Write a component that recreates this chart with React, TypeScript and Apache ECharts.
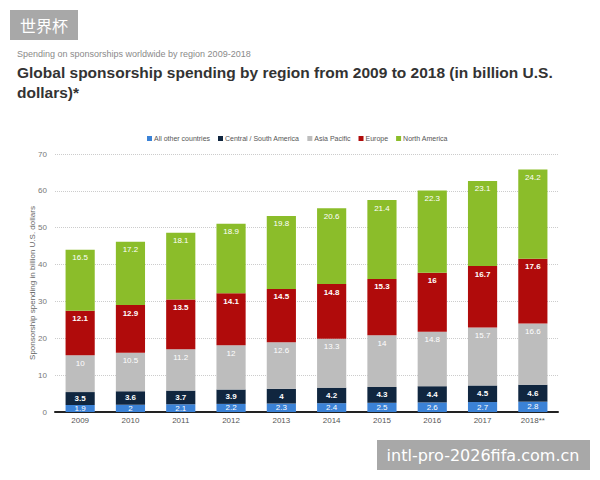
import React, { useEffect, useRef } from "react";
import * as echarts from "echarts";

const years = ["2009", "2010", "2011", "2012", "2013", "2014", "2015", "2016", "2017", "2018**"];
const allOther = [1.9, 2, 2.1, 2.2, 2.3, 2.4, 2.5, 2.6, 2.7, 2.8];
const centralSouth = [3.5, 3.6, 3.7, 3.9, 4, 4.2, 4.3, 4.4, 4.5, 4.6];
const asiaPacific = [10, 10.5, 11.2, 12, 12.6, 13.3, 14, 14.8, 15.7, 16.6];
const europe = [12.1, 12.9, 13.5, 14.1, 14.5, 14.8, 15.3, 16, 16.7, 17.6];
const northAmerica = [16.5, 17.2, 18.1, 18.9, 19.8, 20.6, 21.4, 22.3, 23.1, 24.2];

const FONT = "Liberation Sans, Arial, sans-serif";

export default function App() {
  const ref = useRef<HTMLDivElement>(null);

  useEffect(() => {
    if (!ref.current) return;
    const chart = echarts.init(ref.current, undefined, { renderer: "svg" });

    const seg = (name: string, data: number[], color: string, bold: boolean, pos: string) => ({
      name,
      type: "bar",
      stack: "total",
      barWidth: "58%",
      data,
      itemStyle: { color },
      label: {
        show: true,
        position: pos,
        distance: 4,
        color: "#fff",
        fontSize: 8,
        fontWeight: bold ? "bold" : "normal",
        fontFamily: FONT,
      },
    });

    chart.setOption({
      animation: false,
      backgroundColor: "#fff",
      textStyle: { fontFamily: FONT },
      graphic: [
        { type: "rect", shape: { x: 10, y: 10, width: 68, height: 30 }, style: { fill: "#a8a8a8" } },
        {
          type: "text",
          x: 44,
          y: 25,
          style: {
            text: "世界杯",
            fill: "#fff",
            font: "16px 'Noto Sans CJK SC', sans-serif",
            align: "center",
            verticalAlign: "middle",
          },
        },
        {
          type: "text",
          x: 17,
          y: 54,
          style: {
            text: "Spending on sponsorships worldwide by region 2009-2018",
            fill: "#8a8a8a",
            font: "9px " + FONT,
            verticalAlign: "middle",
          },
        },
        {
          type: "text",
          x: 17,
          y: 62,
          style: {
            text: "Global sponsorship spending by region from 2009 to 2018 (in billion U.S.\ndollars)*",
            fill: "#333",
            font: "bold 15.5px " + FONT,
            lineHeight: 20,
          },
        },
        { type: "rect", shape: { x: 377, y: 440, width: 213, height: 30 }, style: { fill: "#a8a8a8" } },
        {
          type: "text",
          x: 483,
          y: 455,
          style: {
            text: "intl-pro-2026fifa.com.cn",
            fill: "#fff",
            font: "16px 'DejaVu Sans', sans-serif",
            align: "center",
            verticalAlign: "middle",
          },
        },
      ],
      legend: {
        left: 147,
        top: 135,
        padding: 0,
        itemWidth: 5,
        itemHeight: 5,
        itemGap: 8,
        icon: "rect",
        textStyle: { fontSize: 7, color: "#555", fontFamily: FONT, padding: [0, 0, 0, -3] },
        data: ["All other countries", "Central / South America", "Asia Pacific", "Europe", "North America"],
      },
      grid: { left: 55, right: 42, top: 154, bottom: 68 },
      xAxis: {
        type: "category",
        data: years,
        axisLine: { lineStyle: { color: "#222", width: 2 } },
        axisTick: { show: false },
        axisLabel: { color: "#555", fontSize: 8, margin: 4 },
      },
      yAxis: {
        type: "value",
        min: 0,
        max: 70,
        interval: 10,
        name: "Sponsorship spending in billion U.S. dollars",
        nameLocation: "middle",
        nameGap: 19,
        nameMoveOverlap: false,
        nameTextStyle: { color: "#666", fontSize: 8 },
        axisLabel: { color: "#777", fontSize: 8, margin: 8 },
        splitLine: { lineStyle: { color: "#ccc", type: [1, 1] } },
        axisLine: { show: false },
        axisTick: { show: false },
      },
      series: [
        seg("All other countries", allOther, "#3b82d6", false, "inside"),
        seg("Central / South America", centralSouth, "#10263f", true, "inside"),
        seg("Asia Pacific", asiaPacific, "#bdbdbd", false, "insideTop"),
        seg("Europe", europe, "#b00b0b", true, "insideTop"),
        seg("North America", northAmerica, "#8bbd2a", false, "insideTop"),
      ],
    });

    return () => chart.dispose();
  }, []);

  return <div ref={ref} style={{ width: 600, height: 480, position: "absolute", left: 0, top: 0 }} />;
}
